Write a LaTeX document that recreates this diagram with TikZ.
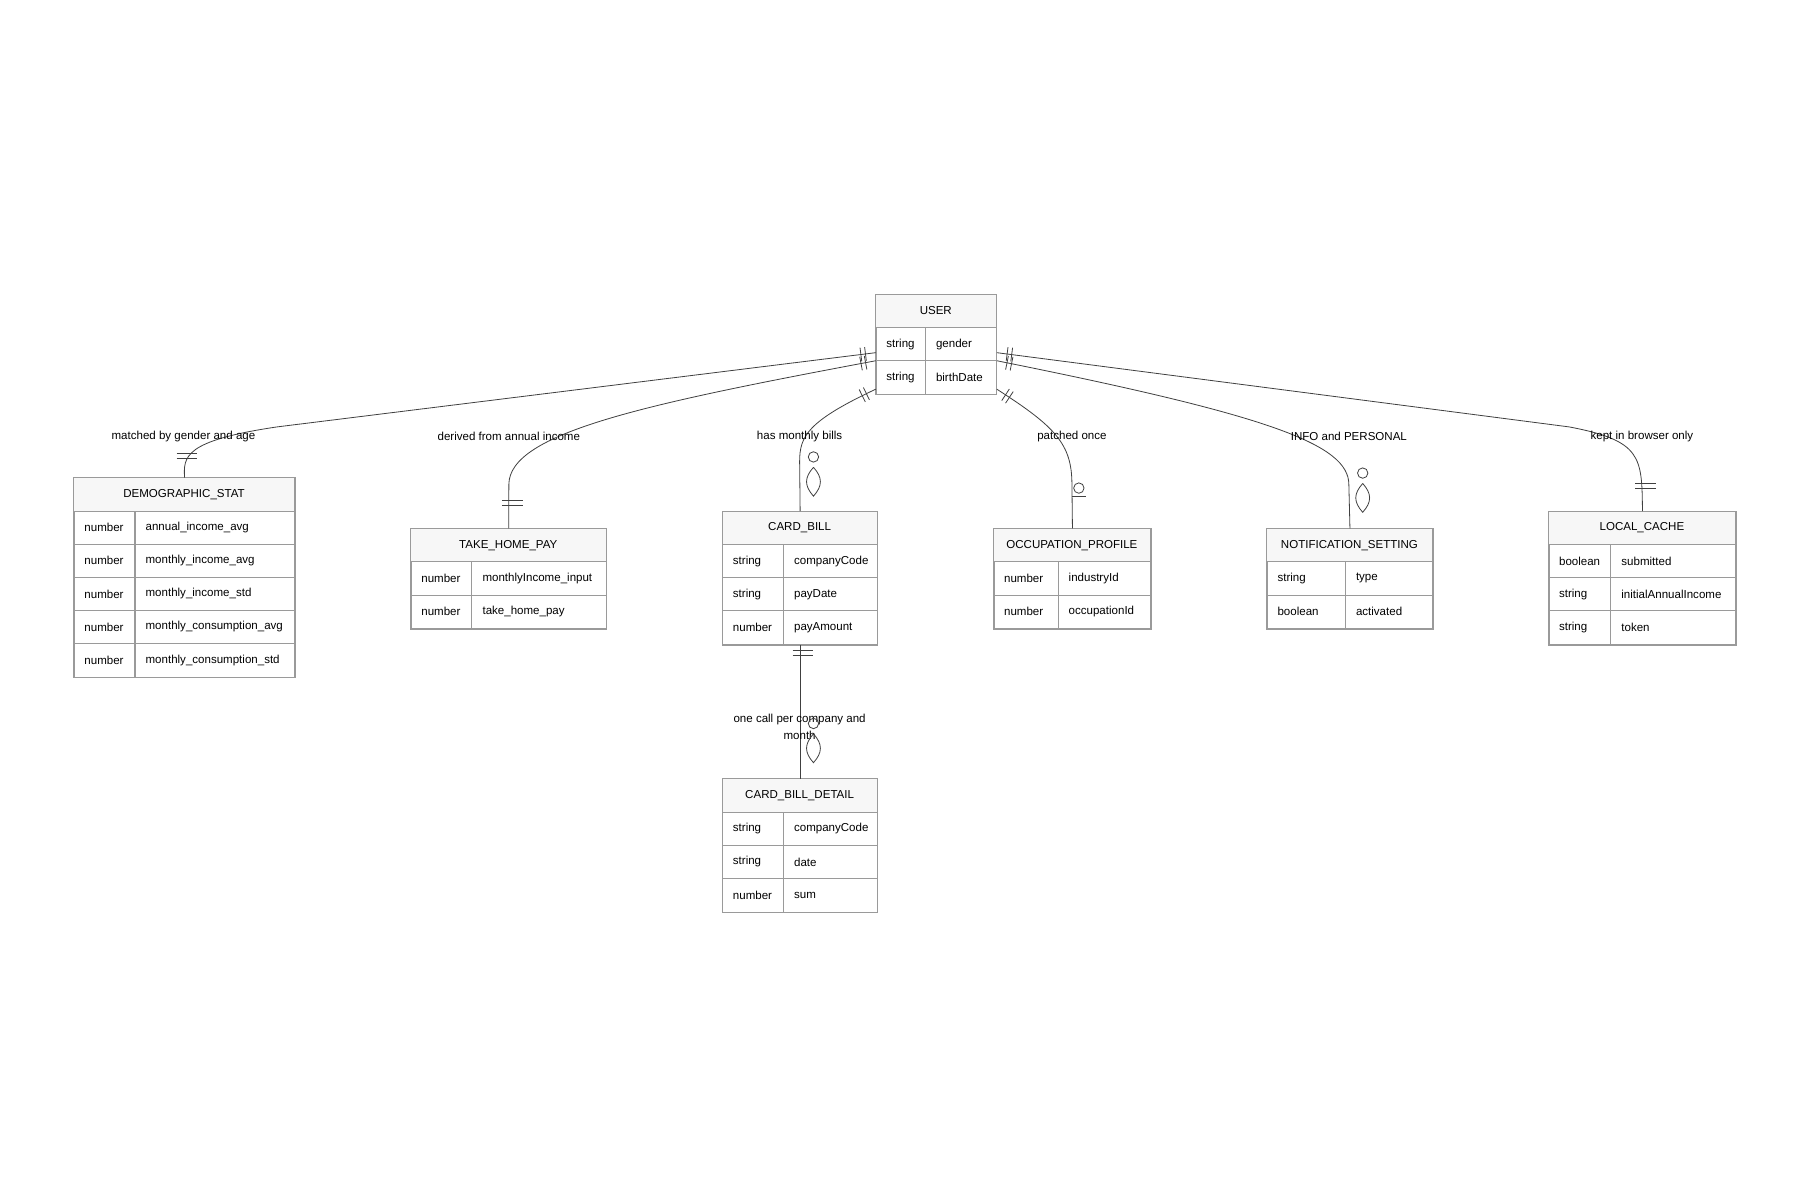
\documentclass[tikz,border=0pt]{standalone}
\usepackage{fontspec}
\setmainfont{Liberation Sans}
\usetikzlibrary{decorations.markings}
\begin{document}
\definecolor{bd}{HTML}{9A9A9A}
\tikzset{
 ebox/.style={draw=bd,line width=0.9pt,inner sep=0pt,fill=white},
 hdr/.style={fill=gray!6},
 etx/.style={font=\fontsize{10}{12}\selectfont,inner sep=0pt},
 lbl/.style={font=\fontsize{10}{12}\selectfont,inner sep=1pt,align=center},
 rel/.style={draw=black!75,line width=0.7pt},
 mk/.style={draw=black!75,line width=0.7pt},
 one/.style={postaction={decorate,decoration={markings,
   mark=at position 9pt with {\draw[mk] (0,-6pt)--(0,6pt);},
   mark=at position 13pt with {\draw[mk] (0,-6pt)--(0,6pt);}}}}
}
\newcommand\ent[8]{%
 \pgfmathsetmacro\hh{29+28.7*#7}
 \node[ebox,minimum width=#4pt,minimum height=\hh pt,anchor=north west] (#1) at (#2,#3) {};
 \fill[hdr] (#2,#3) rectangle ++(#4,29);
 \node[etx] (#1-t) at (#2+#4/2,#3+14.5) {#6};
 \foreach \ty/\nm [count=\i] in {#8}{
   \pgfmathsetmacro\yy{#3+29+28.7*(\i-1)}
   \draw[draw=bd,line width=0.9pt] (#2,\yy) -- ++(#4,0);
   \node[etx,anchor=west] (#1-a\i) at (#2+9,\yy+14.3) {\ty};
   \node[etx,anchor=west] (#1-b\i) at (#2+#5+9,\yy+14.3) {\nm};
 }
 \draw[draw=bd,line width=0.9pt] (#2+#5,#3+29) -- (#2+#5,#3+\hh);
 \draw[draw=bd,line width=0.9pt] (#1.north west) rectangle (#1.south east);
}
\newcommand\zmany[2]{% circle and lens, top at (#1,#2) x = line x
 \draw[mk] (#1+12,#2) circle (4.5);
 \draw[mk] (#1+12,#2+9) .. controls (#1+4,#2+18) and (#1+4,#2+25) .. (#1+12,#2+34) .. controls (#1+20,#2+25) and (#1+20,#2+18) .. (#1+12,#2+9);
}
\begin{tikzpicture}[x=1pt,y=-1pt]
\useasboundingbox (0,0) rectangle (1560,1040);
\ent{user}{759}{255}{104}{43}{USER}{2}{string/gender,string/birthDate}
\ent{demo}{64}{414}{191}{53}{DEMOGRAPHIC\_STAT}{5}{number/annual\_income\_avg,number/monthly\_income\_avg,number/monthly\_income\_std,number/monthly\_consumption\_avg,number/monthly\_consumption\_std}
\ent{take}{356}{458}{169}{53}{TAKE\_HOME\_PAY}{2}{number/monthlyIncome\_input,number/take\_home\_pay}
\ent{card}{626}{443}{134}{53}{CARD\_BILL}{3}{string/companyCode,string/payDate,number/payAmount}
\ent{occ}{861}{458}{136}{56}{OCCUPATION\_PROFILE}{2}{number/industryId,number/occupationId}
\ent{noti}{1098}{458}{143}{68}{NOTIFICATION\_SETTING}{2}{string/type,boolean/activated}
\ent{cache}{1342}{443}{162}{54}{LOCAL\_CACHE}{3}{boolean/submitted,string/initialAnnualIncome,string/token}
\ent{detail}{626}{675}{134}{53}{CARD\_BILL\_DETAIL}{3}{string/companyCode,string/date,number/sum}

% edges
\draw[rel,one] ([yshift=-7pt]user.west) -- (240,370) .. controls (159,382) and (159,396) .. (demo.north);
\draw[rel,one] ([yshift=-14pt]user.west) .. controls (560,350) and (441,375) .. (441,420) -- (take.north);
\draw[rel,one] ([yshift=5pt]user.south west) .. controls (700,365) and (693,378) .. (693,400) -- (card.north);
\draw[rel,one] ([yshift=5pt]user.south east) .. controls (915,370) and (929,385) .. (929,420) -- (occ.north);
\draw[rel,one] ([yshift=-14pt]user.east) .. controls (1100,360) and (1169,385) .. (1169,420) -- (noti.north);
\draw[rel,one] ([yshift=-7pt]user.east) -- (1360,370) .. controls (1423,382) and (1423,396) .. (cache.north);
\draw[rel] (card.south) -- (detail.north);

\node[lbl] (l1) at (159,378) {matched by gender and age};
\node[lbl] (l2) at (441,378) {derived from annual income};
\node[lbl] (l3) at (693,378) {has monthly bills};
\node[lbl] (l4) at (929,378) {patched once};
\node[lbl] (l5) at (1169,378) {INFO and PERSONAL};
\node[lbl] (l6) at (1423,378) {kept in browser only};
\node[font=\fontsize{10}{15}\selectfont,align=center,inner sep=0pt] (l7) at (693,630) {one call per company and\\month};

% entity-side markers
\draw[mk] (153,393)--(171,393) (153,397)--(171,397);
\draw[mk] (435,434)--(453,434) (435,438)--(453,438);
\draw[mk] (1417,419)--(1435,419) (1417,423)--(1435,423);
\draw[mk] (687,564)--(705,564) (687,568)--(705,568);
\zmany{693}{396}
\zmany{1169}{410}
\zmany{693}{627}
\draw[mk] (935,423) circle (4.5);
\draw[mk] (929,430)--(941,430);
\end{tikzpicture}
\end{document}
